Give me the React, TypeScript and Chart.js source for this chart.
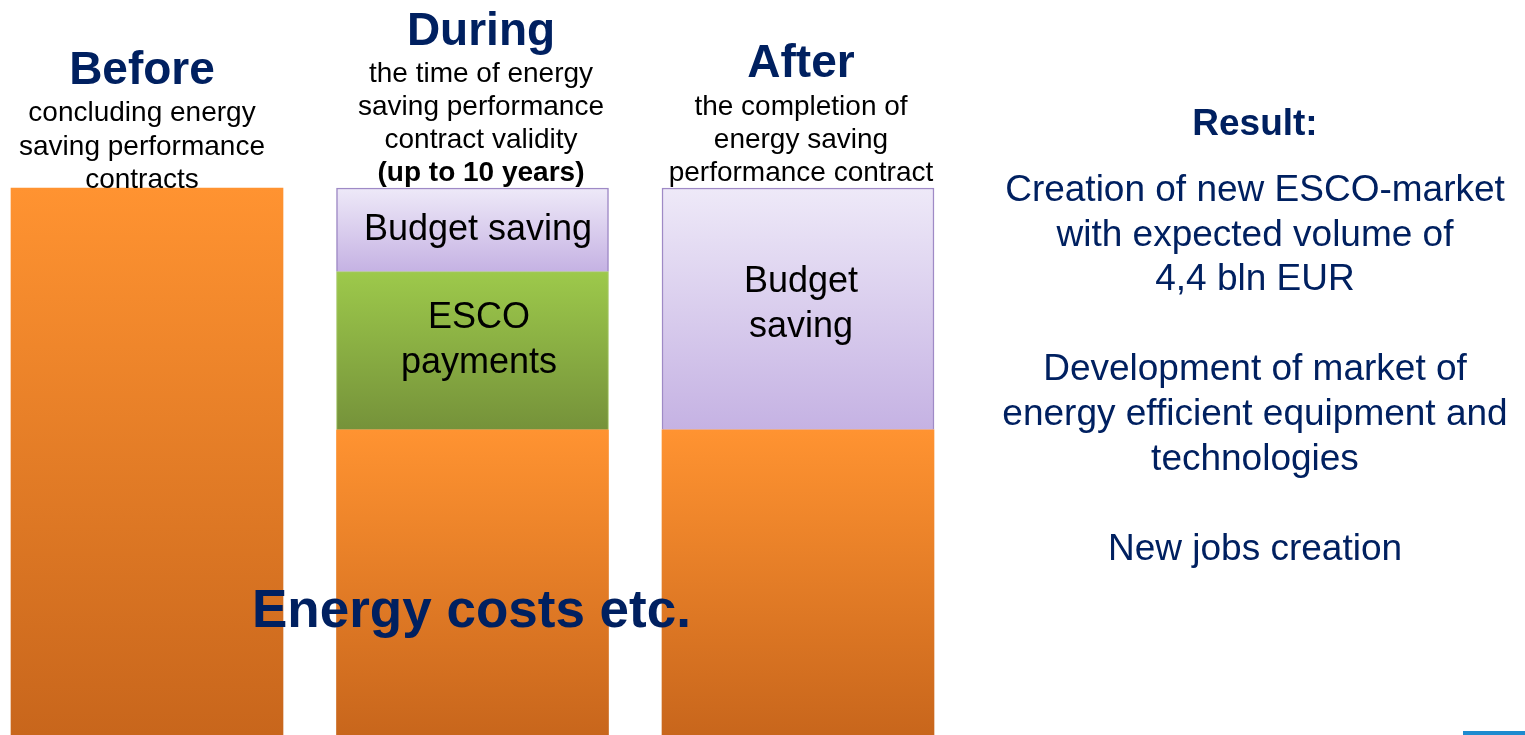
import React, { useEffect, useRef } from "react";
import { Chart, registerables } from "chart.js";

Chart.register(...registerables);

// ---- data ----
const categories = ["Before", "During", "After"];
const energyCosts = [100, 55.8, 55.8];
const escoPayments: (number | null)[] = [null, 28.9, null];
const budgetSaving: (number | null)[] = [null, 15.3, 44.2];

const headings = ["Before", "During", "After"];
const beforeSub = ["concluding energy", "saving performance", "contracts"];
const duringSub = ["the time of energy", "saving performance", "contract validity", "(up to 10 years)"];
const afterSub = ["the completion of", "energy saving", "performance contract"];
const resultTitle = "Result:";
const resultLines = [
  "Creation of new ESCO-market",
  "with expected volume of",
  "4,4 bln EUR",
  "",
  "Development of market of",
  "energy efficient equipment and",
  "technologies",
  "",
  "New jobs creation",
];
const bottomLabel = "Energy costs etc.";

const NAVY = "#002060";
const FONT = '"Liberation Sans", Arial, Helvetica, sans-serif';

const seriesList = [energyCosts, escoPayments, budgetSaving];

function gradientFor(top: string, bottom: string) {
  return (ctx: any) => {
    const chart = ctx.chart;
    const area = chart.chartArea;
    const yScale = chart.scales && chart.scales.y;
    if (!area || !yScale) return top;
    const i = ctx.dataIndex;
    const d = ctx.datasetIndex;
    let base = 0;
    for (let k = 0; k < d; k++) {
      const v = seriesList[k][i];
      if (v != null) base += v as number;
    }
    const v = seriesList[d][i];
    const topVal = base + (v == null ? 0 : (v as number));
    const y0 = yScale.getPixelForValue(topVal);
    const y1 = yScale.getPixelForValue(base);
    if (!isFinite(y0) || !isFinite(y1) || y0 === y1) return top;
    const g = chart.ctx.createLinearGradient(0, y0, 0, y1);
    g.addColorStop(0, top);
    g.addColorStop(1, bottom);
    return g;
  };
}

type LineProps = {
  text: string;
  cx?: number;
  left?: number;
  baseline: number;
  size: number;
  bold?: boolean;
  color?: string;
};

function TextLine({ text, cx, left, baseline, size, bold, color }: LineProps) {
  const top = baseline - 0.8465 * size;
  const style: React.CSSProperties = {
    position: "absolute",
    top,
    fontSize: size,
    lineHeight: `${size}px`,
    fontWeight: bold ? 700 : 400,
    color: color || "#000",
    whiteSpace: "nowrap",
    fontFamily: FONT,
  };
  if (cx !== undefined) {
    style.left = cx - 400;
    style.width = 800;
    style.textAlign = "center";
  } else {
    style.left = left;
  }
  return <div style={style}>{text}</div>;
}

export default function App() {
  const ref = useRef<HTMLCanvasElement>(null);

  useEffect(() => {
    if (!ref.current) return;
    const chart = new Chart(ref.current, {
      type: "bar",
      data: {
        labels: categories,
        datasets: [
          {
            label: "Energy costs etc.",
            data: energyCosts,
            backgroundColor: gradientFor("#FF9331", "#C8661C"),
            borderWidth: 0,
            clip: false as any,
          },
          {
            label: "ESCO payments",
            data: escoPayments,
            backgroundColor: gradientFor("#9DC94B", "#75923A"),
            borderColor: "#A9C96E",
            borderWidth: 1,
            clip: false as any,
          },
          {
            label: "Budget saving",
            data: budgetSaving,
            backgroundColor: gradientFor("#EEE9F8", "#C5B2E3"),
            borderColor: "#9F8AC6",
            borderWidth: 1.5,
            clip: false as any,
          },
        ],
      },
      options: {
        responsive: false,
        animation: false,
        devicePixelRatio: 1,
        layout: { padding: { left: 147, right: 727, top: 188, bottom: 0 } },
        datasets: { bar: { barThickness: 272 } },
        plugins: {
          legend: { display: false },
          tooltip: { enabled: false },
          title: { display: false },
        },
        scales: {
          x: { display: false, stacked: true, offset: false },
          y: { display: false, stacked: true, min: 0, max: 100 },
        },
      },
    });
    return () => chart.destroy();
  }, []);

  return (
    <div
      style={{
        position: "fixed",
        left: 0,
        top: 0,
        width: 1525,
        height: 735,
        background: "#ffffff",
        overflow: "hidden",
        fontFamily: FONT,
      }}
    >
      <canvas
        ref={ref}
        width={1525}
        height={735}
        style={{ position: "absolute", left: 0, top: 0, width: 1525, height: 735 }}
      />

      {/* headings */}
      <TextLine text={headings[0]} cx={142} baseline={84} size={46} bold color={NAVY} />
      <TextLine text={headings[1]} cx={481} baseline={45} size={46} bold color={NAVY} />
      <TextLine text={headings[2]} cx={801} baseline={77} size={46} bold color={NAVY} />

      {beforeSub.map((t, i) => (
        <TextLine key={"b" + i} text={t} cx={142} baseline={122 + i * 33.4} size={28} />
      ))}
      {duringSub.map((t, i) => (
        <TextLine key={"d" + i} text={t} cx={481} baseline={83 + i * 32.8} size={28} bold={i === 3} />
      ))}
      {afterSub.map((t, i) => (
        <TextLine key={"a" + i} text={t} cx={801} baseline={116 + i * 33} size={28} />
      ))}

      {/* in-bar labels */}
      <TextLine text="Budget saving" cx={478} baseline={240} size={36} />
      <TextLine text="ESCO" cx={479} baseline={328} size={36} />
      <TextLine text="payments" cx={479} baseline={373} size={36} />
      <TextLine text="Budget" cx={801} baseline={292} size={36} />
      <TextLine text="saving" cx={801} baseline={337} size={36} />

      <TextLine text={bottomLabel} left={252} baseline={627} size={53} bold color={NAVY} />

      {/* right side */}
      <TextLine text={resultTitle} cx={1255} baseline={135} size={37} bold color={NAVY} />
      {resultLines.map((t, i) =>
        t ? <TextLine key={"r" + i} text={t} cx={1255} baseline={201 + i * 44.9} size={37} color={NAVY} /> : null
      )}

      <div
        style={{
          position: "absolute",
          left: 1463,
          top: 731,
          width: 62,
          height: 4,
          background: "#1E8BCF",
        }}
      />
    </div>
  );
}
